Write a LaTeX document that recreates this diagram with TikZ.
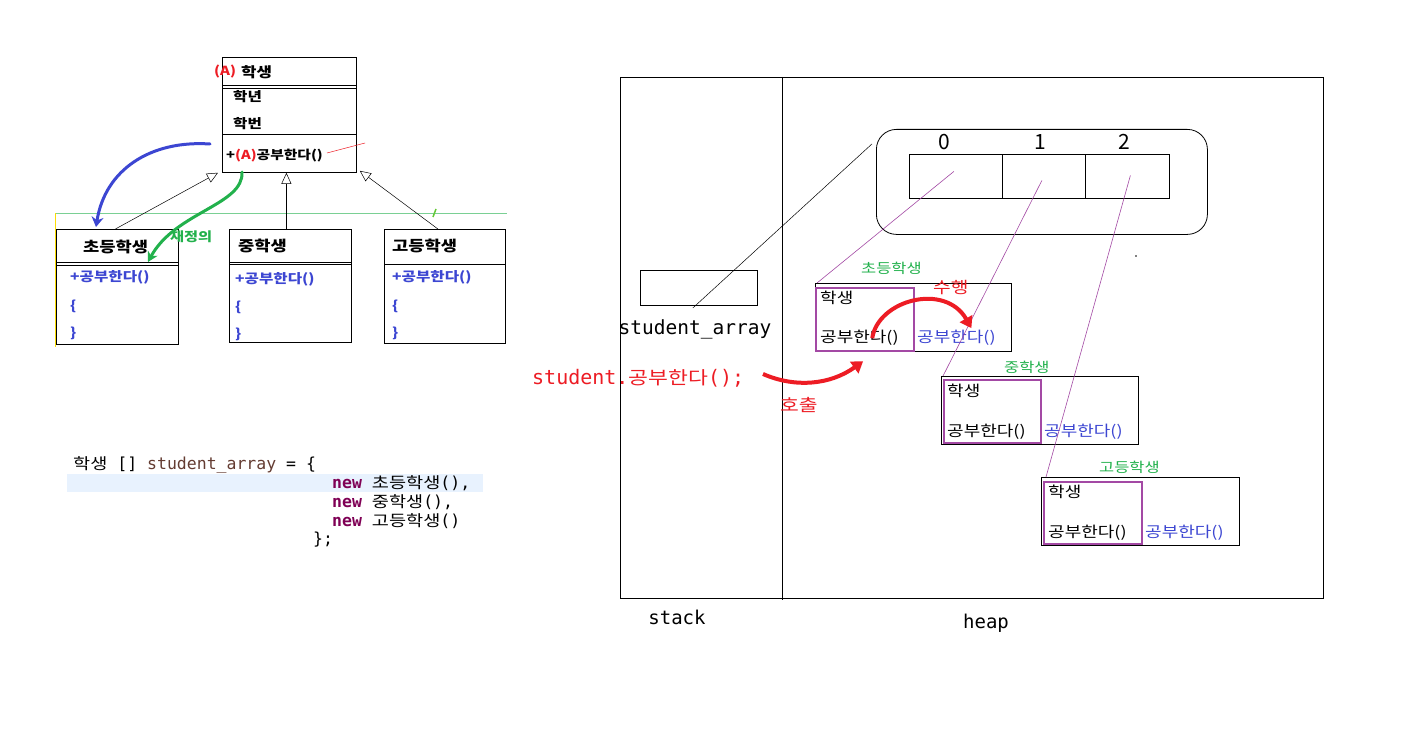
\documentclass[tikz,border=0pt]{standalone}
\usepackage{fontspec}
\setmainfont{Noto Sans CJK KR}
\newfontfamily\krw{Noto Sans CJK KR}[FakeStretch=1.2]
\newfontfamily\mono{DejaVu Sans Mono}
\usetikzlibrary{arrows.meta,calc}
\definecolor{umlblue}{RGB}{60,70,210}
\definecolor{hlred}{RGB}{237,28,36}
\definecolor{hlgreen}{RGB}{34,177,76}
\definecolor{objpurple}{RGB}{163,73,164}
\definecolor{codehl}{RGB}{232,242,254}
\definecolor{kwpurple}{RGB}{127,0,85}
\definecolor{idbrown}{RGB}{100,60,50}
\definecolor{hdrblue}{RGB}{60,70,210}
\tikzset{
  box/.style={draw=black, line width=0.8pt, anchor=north west, inner sep=0pt},
  lbl/.style={anchor=west, inner sep=0pt},
  inh/.style={draw=black, line width=0.5pt, -{Triangle[open,length=11pt,width=10pt]}},
  objline/.style={draw=objpurple, line width=0.6pt},
  pbox/.style={draw=objpurple, line width=2.2pt, anchor=north west, inner sep=0pt},
  redarrow/.style={draw=hlred, line width=4pt, -{Triangle[length=11pt,width=14pt]}},
  codetxt/.style={lbl, font=\mono\fontsize{16.5}{18}\selectfont},
}
\newcommand{\kc}[1]{{\krw\fontsize{15.5}{18}\selectfont #1}}
\begin{document}
\begin{tikzpicture}[x=1pt,y=-1pt]
\useasboundingbox (0,0) rectangle (1407,733);
\fill[white] (0,0) rectangle (1407,733);

% ---------- UML ----------
\draw[hlgreen!60, line width=0.6pt] (55,213) -- (507,213);
\draw[yellow!80!orange, line width=1pt] (55,213) -- (55,347);
\draw[hlgreen!70!yellow, line width=1.5pt] (433,217) -- (436,209);

\node[box, minimum width=134pt, minimum height=115pt] (stu) at (222,57) {};
\draw[line width=0.6pt] (222,85) -- (356,85);
\draw[line width=0.6pt] (222,88) -- (356,88);
\draw[line width=0.8pt] (222,134) -- (356,134);
\node[lbl, font=\krw\bfseries\fontsize{12.5}{14}\selectfont, text=hlred] (stuA) at (214,72) {(A)};
\node[lbl, font=\krw\bfseries\fontsize{14}{16}\selectfont] (stuT) at (241,72) {학생};
\node[lbl, font=\krw\bfseries\fontsize{13}{15}\selectfont] (stuF1) at (233,97) {학년};
\node[lbl, font=\krw\bfseries\fontsize{13}{15}\selectfont] (stuF2) at (233,124) {학번};
\node[lbl, font=\krw\bfseries\fontsize{12.3}{14}\selectfont] (stuM) at (226,156) {+\textcolor{hlred}{(A)}공부한다()};
\draw[hlred, line width=0.5pt] (327,153) -- (365,143);

% children
\node[box, minimum width=122pt, minimum height=115pt] (cho) at (56,229) {};
\draw[line width=0.6pt] (56,262) -- (178,262);
\draw[line width=0.6pt] (56,265) -- (178,265);
\node[lbl, font=\krw\bfseries\fontsize{14.7}{16}\selectfont] (choT) at (83,247) {초등학생};
\node[lbl, font=\krw\bfseries\fontsize{13}{15}\selectfont, text=hdrblue] (choM) at (70,277) {+공부한다()};
\node[lbl, font=\krw\bfseries\fontsize{13}{15}\selectfont, text=hdrblue] (choO) at (70,306) {\{};
\node[lbl, font=\krw\bfseries\fontsize{13}{15}\selectfont, text=hdrblue] (choC) at (70,333) {\}};

\node[box, minimum width=122pt, minimum height=113pt] (mid) at (229,229) {};
\draw[line width=0.6pt] (229,262) -- (351,262);
\draw[line width=0.6pt] (229,264) -- (351,264);
\node[lbl, font=\krw\bfseries\fontsize{14.7}{16}\selectfont] (midT) at (238,246) {중학생};
\node[lbl, font=\krw\bfseries\fontsize{13}{15}\selectfont, text=hdrblue] (midM) at (235,279) {+공부한다()};
\node[lbl, font=\krw\bfseries\fontsize{13}{15}\selectfont, text=hdrblue] (midO) at (235,307) {\{};
\node[lbl, font=\krw\bfseries\fontsize{13}{15}\selectfont, text=hdrblue] (midC) at (235,334) {\}};

\node[box, minimum width=121pt, minimum height=114pt] (high) at (384,229) {};
\draw[line width=0.8pt] (384,264) -- (505,264);
\node[lbl, font=\krw\bfseries\fontsize{14.7}{16}\selectfont] (highT) at (392,246) {고등학생};
\node[lbl, font=\krw\bfseries\fontsize{13}{15}\selectfont, text=hdrblue] (highM) at (392,277) {+공부한다()};
\node[lbl, font=\krw\bfseries\fontsize{13}{15}\selectfont, text=hdrblue] (highO) at (392,306) {\{};
\node[lbl, font=\krw\bfseries\fontsize{13}{15}\selectfont, text=hdrblue] (highC) at (392,333) {\}};

% inheritance
\draw[inh] ($(cho.north)+(-2,0)$) -- ($(stu.south west)+(-4,0)$);
\draw[inh] ($(mid.north)+(-4,0)$) -- ($(stu.south)+(-3,0)$);
\draw[inh] ($(high.north)+(-7,0)$) -- ($(stu.south east)+(3,-2)$);

% override annotations
\draw[umlblue, line width=3pt, line cap=round, -{Stealth[length=10pt,width=12pt]}]
  (210,144) .. controls (150,140) and (105,170) .. (96,227);
\draw[hlgreen, line width=3pt, line cap=round, -{Stealth[length=10pt,width=11pt]}]
  (242,172) .. controls (244,205) and (175,212) .. (148,262);
\node[lbl, font=\krw\bfseries\fontsize{12.7}{14}\selectfont, text=hlgreen] (redef) at (170,237) {재정의};

% ---------- code ----------
\fill[codehl] (67,474) rectangle (483,492);
\node[codetxt] (code1) at (73,465)
  {\kc{학생} [] \textcolor{idbrown}{student\_array} = \{};
\node[codetxt] (code2) at (332,483)
  {\textcolor{kwpurple}{\textbf{new}} \kc{초등학생}(),};
\node[codetxt] (code3) at (332,502)
  {\textcolor{kwpurple}{\textbf{new}} \kc{중학생}(),};
\node[codetxt] (code4) at (332,521)
  {\textcolor{kwpurple}{\textbf{new}} \kc{고등학생}()};
\node[codetxt] (code5) at (313,540) {\};};

% ---------- memory ----------
\node[box, minimum width=703pt, minimum height=521pt] (mem) at (620,77) {};
\draw[line width=0.8pt] (782,77) -- (782,600);
\node[font=\mono\fontsize{19}{22}\selectfont] (stackL) at (677,617) {stack};
\node[font=\mono\fontsize{19}{22}\selectfont] (heapL) at (986,623) {heap};

\node[box, minimum width=117pt, minimum height=35pt] (sa) at (640,270) {};
\node[font=\mono\fontsize{19.5}{22}\selectfont] (saL) at (695,329) {student\_array};

\node[draw=black, line width=0.8pt, rounded corners=20pt, anchor=north west, minimum width=331pt, minimum height=105pt, inner sep=0pt] (arr) at (876,129) {};
\node[box, minimum width=93pt, minimum height=44pt] (c0) at (909,154) {};
\node[box, minimum width=83pt, minimum height=44pt] (c1) at (1002,154) {};
\node[box, minimum width=84pt, minimum height=44pt] (c2) at (1085,154) {};
\node[font=\fontsize{21}{23}\selectfont] (i0) at (944,142) {0};
\node[font=\fontsize{21}{23}\selectfont] (i1) at (1040,142) {1};
\node[font=\fontsize{21}{23}\selectfont] (i2) at (1124,142) {2};
\draw[line width=0.5pt] ($(sa.center)+(-6,20)$) -- ($(arr.west)+(-4,-38)$);
\fill (1136,256) circle (0.8pt);

% objects
\node[box, minimum width=196pt, minimum height=68pt] (o1) at (815,283) {};
\node[pbox, minimum width=98pt, minimum height=63pt] (p1) at (815,287) {};
\node[lbl, font=\krw\fontsize{13.7}{15}\selectfont, text=hlgreen] (o1T) at (861,268) {초등학생};
\node[lbl, font=\krw\fontsize{15}{17}\selectfont] (o1a) at (820,298) {학생};
\node[lbl, font=\krw\fontsize{15}{17}\selectfont] (o1b) at (820,338) {공부한다()};
\node[lbl, font=\krw\fontsize{15}{17}\selectfont, text=hdrblue] (o1c) at (917,338) {공부한다()};

\node[box, minimum width=197pt, minimum height=68pt] (o2) at (941,376) {};
\node[pbox, minimum width=97pt, minimum height=63pt] (p2) at (943,379) {};
\node[lbl, font=\krw\fontsize{13.7}{15}\selectfont, text=hlgreen] (o2T) at (1004,367) {중학생};
\node[lbl, font=\krw\fontsize{15}{17}\selectfont] (o2a) at (947,391) {학생};
\node[lbl, font=\krw\fontsize{15}{17}\selectfont] (o2b) at (947,432) {공부한다()};
\node[lbl, font=\krw\fontsize{15}{17}\selectfont, text=hdrblue] (o2c) at (1044,432) {공부한다()};

\node[box, minimum width=198pt, minimum height=68pt] (o3) at (1041,477) {};
\node[pbox, minimum width=98pt, minimum height=62pt] (p3) at (1043,481) {};
\node[lbl, font=\krw\fontsize{13.7}{15}\selectfont, text=hlgreen] (o3T) at (1099,467) {고등학생};
\node[lbl, font=\krw\fontsize{15}{17}\selectfont] (o3a) at (1048,492) {학생};
\node[lbl, font=\krw\fontsize{15}{17}\selectfont] (o3b) at (1048,533) {공부한다()};
\node[lbl, font=\krw\fontsize{15}{17}\selectfont, text=hdrblue] (o3c) at (1145,533) {공부한다()};

% references
\draw[objline] ($(c0.center)+(-2,-5)$) -- ($(o1.north west)+(2,0)$);
\draw[objline] ($(c1.center)+(-2,4)$) -- ($(o2.north west)+(2,0)$);
\draw[objline] ($(c2.center)+(3,-1)$) -- ($(o3.north west)+(5,0)$);

% call annotations
\node[lbl, font=\mono\fontsize{20}{22}\selectfont, text=hlred] (call) at (532,378) {student.{\krw\fontsize{18}{20}\selectfont 공부한다}();};
\node[lbl, font=\krw\fontsize{17}{20}\selectfont, text=hlred] (callL) at (780,405) {호출};
\node[lbl, font=\krw\fontsize{16}{20}\selectfont, text=hlred] (runL) at (933,288) {수행};
\draw[redarrow] (763,374) .. controls (795,388) and (830,385) .. ($(p1.south)+(-2,9)$);
\draw[redarrow] ($(p1.south east)+(-43,-14)$) .. controls (878,300) and (945,282) .. ($(o1c.north)+(15,-2)$);
\end{tikzpicture}
\end{document}
